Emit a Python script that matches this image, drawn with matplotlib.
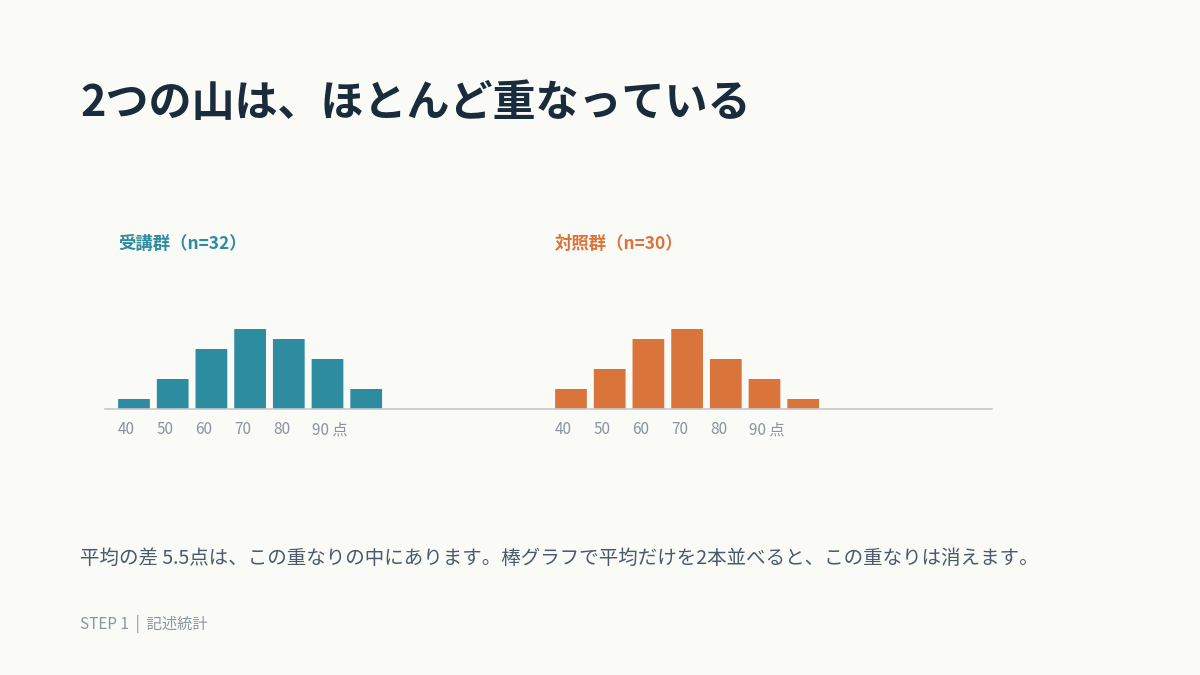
import matplotlib.pyplot as plt
from matplotlib.patches import FancyBboxPatch

plt.rcParams['font.family'] = ['Noto Sans CJK JP', 'DejaVu Sans']

bins = [40, 50, 60, 70, 80, 90, 100]
tick_labels = ["40", "50", "60", "70", "80", "90 点"]
treat_counts = [1, 3, 6, 8, 7, 5, 2]
ctrl_counts = [2, 4, 7, 8, 5, 3, 1]
treat_title = "受講群（n=32）"
ctrl_title = "対照群（n=30）"

BG = "#fafaf7"
W, H = 1200, 675
fig = plt.figure(figsize=(12, 6.75), dpi=100, facecolor=BG)

def px_axes(x0, x1, y0, y1):
    return fig.add_axes([x0 / W, 1 - y1 / H, (x1 - x0) / W, (y1 - y0) / H])

STEP = 38.7  # px per bin
def panel(x_first_center, counts, color, title):
    x0 = x_first_center - 0.75 * STEP
    x1 = x0 + 11.4 * STEP
    ax = px_axes(x0, x1, 289, 409)
    ax.set_xlim(-0.75, 10.65)
    ax.set_ylim(0, 12)
    ax.axis("off")
    for i, c in enumerate(counts):
        ax.add_patch(FancyBboxPatch((i - 0.41, 0), 0.82, c, boxstyle="round,pad=0,rounding_size=0.05",
                                    fc=color, ec="none", mutation_aspect=1 / 4))
    for i, t in enumerate(tick_labels):
        ax.text(i - 0.41, -1.2, t, ha="left", va="top", fontsize=11, color="#8a94a0")
    ax.text(-0.41, 16.5, title, ha="left", va="center", fontsize=12.5,
            fontweight="bold", color=color)
    return ax

panel(134, treat_counts, "#2e8ca0", treat_title)
panel(571, ctrl_counts, "#d9743a", ctrl_title)

fig.add_artist(plt.Line2D([105 / W, 992 / W], [1 - 409 / H] * 2, color="#c8c8c8", lw=1.2))

fig.text(80 / W, 1 - 103 / H, "2つの山は、ほとんど重なっている", fontsize=31, fontweight="bold",
         color="#1a2b3c", va="center", ha="left")
fig.text(80 / W, 1 - 558 / H,
         "平均の差 5.5点は、この重なりの中にあります。棒グラフで平均だけを2本並べると、この重なりは消えます。",
         fontsize=14, color="#4a5a6a", va="center", ha="left")
fig.text(80 / W, 1 - 624 / H, "STEP 1  |  記述統計", fontsize=11, color="#8a94a0",
         va="center", ha="left")

fig.savefig("out.png", dpi=100, facecolor=BG)
